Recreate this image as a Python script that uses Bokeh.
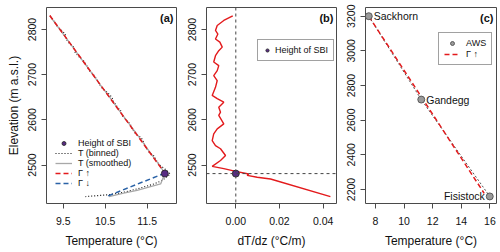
from bokeh.plotting import figure
from bokeh.layouts import row
from bokeh.models import (Range1d, FixedTicker, Legend, LegendItem, Label, Span,
                          NumeralTickFormatter, AllLabels)
from bokeh.core.properties import value
from bokeh.embed import file_html
from bokeh.resources import INLINE

FONT = "Liberation Sans"

# ---------------- data: panel (a) ----------------
z_binned = [2830, 2820, 2810, 2800, 2790, 2780, 2770, 2760, 2750, 2740, 2730, 2720,
            2710, 2700, 2690, 2680, 2670, 2660, 2650, 2640, 2630, 2620, 2610, 2600,
            2590, 2580, 2570, 2560, 2550, 2540, 2530, 2520, 2510, 2500, 2490, 2480,
            2475, 2466, 2458, 2447, 2438, 2434, 2430]
t_binned = [9.19, 9.27, 9.33, 9.44, 9.55, 9.56, 9.64, 9.76, 9.78, 9.87, 9.99, 10.06,
            10.11, 10.22, 10.30, 10.35, 10.43, 10.56, 10.66, 10.70, 10.78, 10.87, 10.90, 11.00,
            11.10, 11.14, 11.22, 11.36, 11.42, 11.46, 11.53, 11.66, 11.72, 11.80, 11.94, 12.05,
            11.98, 11.86, 11.66, 11.26, 10.86, 10.55, 10.03]
z_smooth = [2830, 2800, 2770, 2740, 2710, 2680, 2650, 2620, 2590, 2560, 2530, 2500,
            2482, 2477, 2458, 2452, 2444, 2438, 2430]
t_smooth = [9.18, 9.42, 9.66, 9.89, 10.13, 10.36, 10.61, 10.84, 11.08, 11.32, 11.55, 11.79,
            11.92, 11.90, 11.82, 11.58, 11.26, 10.94, 10.59]
z_gamma_up = [2831, 2482]
t_gamma_up = [9.18, 11.92]
z_gamma_down = [2482, 2431]
t_gamma_down = [11.92, 10.55]
sbi_z = [2481]
sbi_t = [11.92]

# ---------------- data: panel (b) ----------------
z_dtdz = [2830, 2820, 2809, 2798, 2790, 2779, 2772, 2761, 2753, 2742, 2728, 2720,
          2709, 2698, 2687, 2672, 2654, 2647, 2639, 2628, 2617, 2610, 2591, 2580,
          2569, 2554, 2543, 2536, 2521, 2510, 2497, 2492, 2486, 2480, 2477, 2473,
          2469, 2430]
dtdz = [-0.0014, -0.0055, -0.0085, -0.0093, -0.0082, -0.0093, -0.0073, -0.0062, -0.0078,
        -0.0093, -0.0101, -0.0078, -0.0085, -0.0101, -0.0085, -0.0093, -0.0108, -0.0085,
        -0.0055, -0.0078, -0.0070, -0.0078, -0.0055, -0.0085, -0.0101, -0.0108, -0.0093,
        -0.0070, -0.0047, -0.0070, -0.0108, -0.0055, 0.0000, 0.0059, 0.0052, 0.0098,
        0.0159, 0.0433]
sbi_dtdz = [0.0]

# ---------------- data: panel (c) ----------------
stations = ["Sackhorn", "Gandegg", "Fisistock"]
aws_t = [7.53, 11.2, 15.99]
aws_z = [3200, 2719, 2160]
t_gamma_up_c = [7.53, 15.6]
z_gamma_up_c = [3200, 2178]

# tick positions
xt_a = [9.5, 10.5, 11.5]
yt_ab = [2500, 2600, 2700, 2800]
xt_b = [0.0, 0.02, 0.04]
xt_c = [8, 10, 12, 14, 16]
yt_c = [2200, 2400, 2600, 2800, 3000, 3200]

RED = "#E31A1C"
BLUE = "#2A62A6"
GREY = "#A8A8A8"
PURPLE = "#582C83"
FRAME = "#4a4a4a"
TXT = "#111111"

H = 252
TOP = 7
BOTTOM = 49


def base_fig(width, bl, br, xr, yr):
    p = figure(width=width, height=H, output_backend="svg", toolbar_location=None,
               x_range=Range1d(*xr), y_range=Range1d(*yr),
               min_border_left=bl, min_border_right=br,
               min_border_top=TOP, min_border_bottom=BOTTOM)
    p.grid.visible = False
    p.outline_line_color = FRAME
    p.outline_line_width = 1
    p.outline_line_alpha = 1
    p.background_fill_color = "white"
    p.border_fill_color = "white"
    for ax in (p.xaxis[0], p.yaxis[0]):
        ax.axis_line_color = None
        ax.minor_tick_line_color = None
        ax.major_tick_in = 0
        ax.major_tick_out = 5
        ax.major_tick_line_color = FRAME
        ax.major_label_policy = AllLabels()
        ax.major_label_text_font = FONT
        ax.major_label_text_font_size = "10.5px"
        ax.major_label_text_color = TXT
        ax.axis_label_text_font = FONT
        ax.axis_label_text_font_size = "12px"
        ax.axis_label_text_font_style = "normal"
        ax.axis_label_text_color = TXT
    p.xaxis.major_label_standoff = 8
    p.xaxis.axis_label_standoff = 6
    p.yaxis.major_label_orientation = "vertical"
    p.yaxis.major_label_standoff = 5
    return p


def panel_label(p, txt):
    p.add_layout(Label(x=p.x_range.end, y=p.y_range.end, x_offset=-3, y_offset=-4,
                       text=txt, text_align="right", text_baseline="top",
                       text_font=FONT, text_font_size="11px", text_font_style="bold",
                       text_color=TXT))


# ---------------- panel (a) ----------------
pa = base_fig(180, 46, 4, (9.102, 12.198), (2414.8, 2848.7))
pa.xaxis.ticker = FixedTicker(ticks=xt_a)
pa.yaxis.ticker = FixedTicker(ticks=yt_ab)
pa.xaxis.formatter = NumeralTickFormatter(format="0.0")
pa.yaxis.formatter = NumeralTickFormatter(format="0")
pa.xaxis.axis_label = "Temperature (°C)"
pa.yaxis.axis_label = "Elevation (m a.s.l.)"
pa.yaxis.axis_label_standoff = 5

r_bin = pa.line(t_binned, z_binned, line_color=TXT, line_width=1.1, line_dash="1 2")
r_smo = pa.line(t_smooth, z_smooth, line_color=GREY, line_width=1.3)
r_up = pa.line(t_gamma_up, z_gamma_up, line_color=RED, line_width=1.5, line_dash="5 3")
r_dn = pa.line(t_gamma_down, z_gamma_down, line_color=BLUE, line_width=1.5, line_dash="5 3")
r_sbi = pa.scatter(sbi_t, sbi_z, size=7, fill_color=PURPLE, line_color="#222222", line_width=0.8)

leg_a = Legend(items=[LegendItem(label="Height of SBI", renderers=[r_sbi]),
                      LegendItem(label="T (binned)", renderers=[r_bin]),
                      LegendItem(label="T (smoothed)", renderers=[r_smo]),
                      LegendItem(label="Γ ↑", renderers=[r_up]),
                      LegendItem(label="Γ ↓", renderers=[r_dn])],
               location=(9, 15), padding=0, margin=0, spacing=0,
               glyph_width=17, glyph_height=10, label_height=10, label_standoff=6,
               label_text_font=FONT, label_text_font_size="9px",
               label_text_color=TXT,
               border_line_alpha=0, background_fill_alpha=0)
pa.add_layout(leg_a)
panel_label(pa, "(a)")

# ---------------- panel (b) ----------------
pb = base_fig(160, 26, 4, (-0.01341, 0.04609), (2414.8, 2848.7))
pb.xaxis.ticker = FixedTicker(ticks=xt_b)
pb.yaxis.ticker = FixedTicker(ticks=yt_ab)
pb.xaxis.formatter = NumeralTickFormatter(format="0.00")
pb.yaxis.formatter = NumeralTickFormatter(format="0")
pb.xaxis.axis_label = "dT/dz (°C/m)"

pb.add_layout(Span(location=sbi_dtdz[0], dimension="height", line_color="#444444",
                   line_dash="3 3", line_width=1))
pb.add_layout(Span(location=sbi_z[0], dimension="width", line_color="#444444",
                   line_dash="3 3", line_width=1))
pb.line(dtdz, z_dtdz, line_color=RED, line_width=1.4)
r_sbi_b = pb.scatter(sbi_dtdz, sbi_z, size=7, fill_color=PURPLE, line_color="#222222",
                     line_width=0.8)
leg_b = Legend(items=[LegendItem(label="Height of SBI", renderers=[r_sbi_b])],
               location=(51, 142), padding=5, margin=0, spacing=0,
               glyph_width=8, glyph_height=10, label_height=10, label_standoff=4,
               label_text_font=FONT, label_text_font_size="9px",
               label_text_color=TXT,
               border_line_color="#444444", border_line_width=1,
               background_fill_color="white", background_fill_alpha=1)
pb.add_layout(leg_b)
panel_label(pb, "(b)")

# ---------------- panel (c) ----------------
pc = base_fig(160, 25, 4, (7.301, 16.462), (2119.2, 3250.2))
pc.xaxis.ticker = FixedTicker(ticks=xt_c)
pc.yaxis.ticker = FixedTicker(ticks=yt_c)
pc.xaxis.formatter = NumeralTickFormatter(format="0")
pc.yaxis.formatter = NumeralTickFormatter(format="0")
pc.xaxis.axis_label = "Temperature (°C)"

pc.line(aws_t, aws_z, line_color="#555555", line_width=1, line_dash="2 2")
r_gc = pc.line(t_gamma_up_c, z_gamma_up_c, line_color=RED, line_width=1.5, line_dash="5 3")
r_aws = pc.scatter(aws_t, aws_z, size=7, fill_color="#9A9A9A", line_color="#444444",
                   line_width=0.8)
pc.text(x=aws_t[:2], y=aws_z[:2], text=stations[:2], x_offset=5,
        text_align="left", text_baseline="middle", text_font=value(FONT),
        text_font_size="10.5px", text_color=TXT)
pc.text(x=aws_t[2:], y=aws_z[2:], text=stations[2:], x_offset=-5,
        text_align="right", text_baseline="middle", text_font=value(FONT),
        text_font_size="10.5px", text_color=TXT)
leg_c = Legend(items=[LegendItem(label="AWS", renderers=[r_aws]),
                      LegendItem(label="Γ ↑", renderers=[r_gc])],
               location=(73, 138), padding=5, margin=0, spacing=1,
               glyph_width=16, glyph_height=10, label_height=10, label_standoff=6,
               label_text_font=FONT, label_text_font_size="9px",
               label_text_color=TXT,
               border_line_color="#444444", border_line_width=1,
               background_fill_color="white", background_fill_alpha=1)
pc.add_layout(leg_c)
panel_label(pc, "(c)")

layout = row(pa, pb, pc, spacing=0)
open("out.html", "w").write(file_html(layout, INLINE))
